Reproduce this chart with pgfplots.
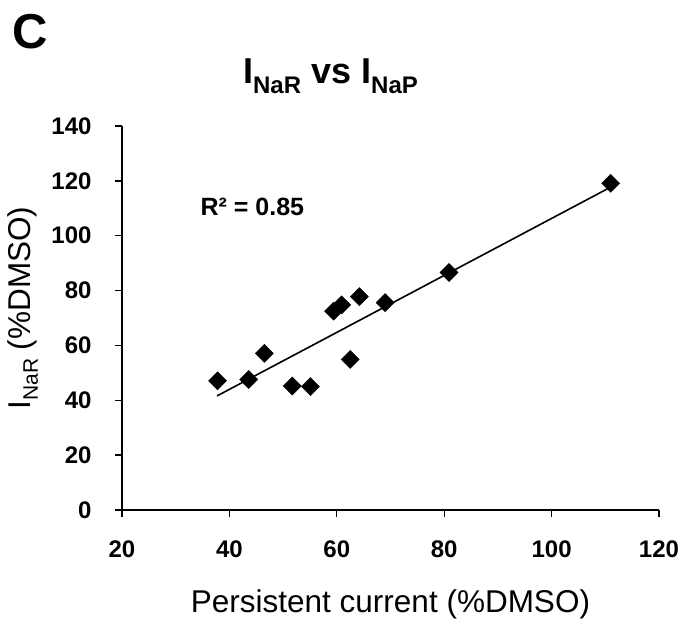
\documentclass[border=0pt]{standalone}
\usepackage{pgfplots}
\pgfplotsset{compat=1.18}
\usepackage{fontspec}
\setmainfont{Liberation Sans}
\newcommand{\sub}[3]{\raisebox{-#2}{\fontsize{#1}{#1}\selectfont #3}}
\begin{document}
\begin{tikzpicture}[x=1pt,y=1pt]
\useasboundingbox (0,0) rectangle (690,625);
\begin{axis}[
  at={(122pt,115pt)}, anchor=south west,
  scale only axis, width=537pt, height=384pt,
  xmin=20, xmax=120, ymin=0, ymax=140,
  xtick={20,40,60,80,100,120}, ytick={0,20,40,60,80,100,120,140},
  axis lines=left, axis line style={-, line width=1.3pt},
  tick align=outside, major tick length=7pt,
  tick style={line width=1.3pt, black},
  /pgf/number format/assume math mode=true,
  ticklabel style={font=\fontsize{24}{24}\selectfont\bfseries},
  xticklabel style={yshift=-20pt},
  yticklabel style={xshift=-20pt},
  xlabel={Persistent current (\%DMSO)},
  ylabel={I\sub{21pt}{7pt}{NaR} (\%DMSO)},
  label style={font=\fontsize{31.5}{31.5}\selectfont},
  xlabel style={at={(axis description cs:0.5,-0.266)}, anchor=base},
  ylabel style={at={(axis description cs:-0.184,0.526)}, anchor=center},
  title={I\sub{24pt}{10pt}{NaR} vs I\sub{24pt}{10pt}{NaP}},
  title style={font=\fontsize{36}{36}\selectfont\bfseries, at={(axis description cs:0.219,1.094)}, anchor=base west},
  clip=false,
]
\addplot[black, line width=1.6pt] coordinates {(37.7,41.6) (110.4,117.1)};
\addplot[only marks, mark=square*, mark size=6.4pt, mark options={rotate=45, fill=black, draw=black}] coordinates {
(37.8,47.1)
(43.6,47.6)
(46.5,57.1)
(51.7,45.2)
(55.1,45.0)
(59.4,72.5)
(60.9,74.8)
(62.5,54.9)
(64.2,77.8)
(69.0,75.6)
(80.9,86.6)
(111.0,119.1)
};
\node[anchor=base west, inner sep=0pt, font=\fontsize{25}{25}\selectfont\bfseries] at (axis cs:34.6,107.4) {R² = 0.85};
\node[anchor=base west, inner sep=0pt, font=\fontsize{49}{49}\selectfont\bfseries] at (axis description cs:-0.204,1.203) {C};
\end{axis}
\end{tikzpicture}
\end{document}
